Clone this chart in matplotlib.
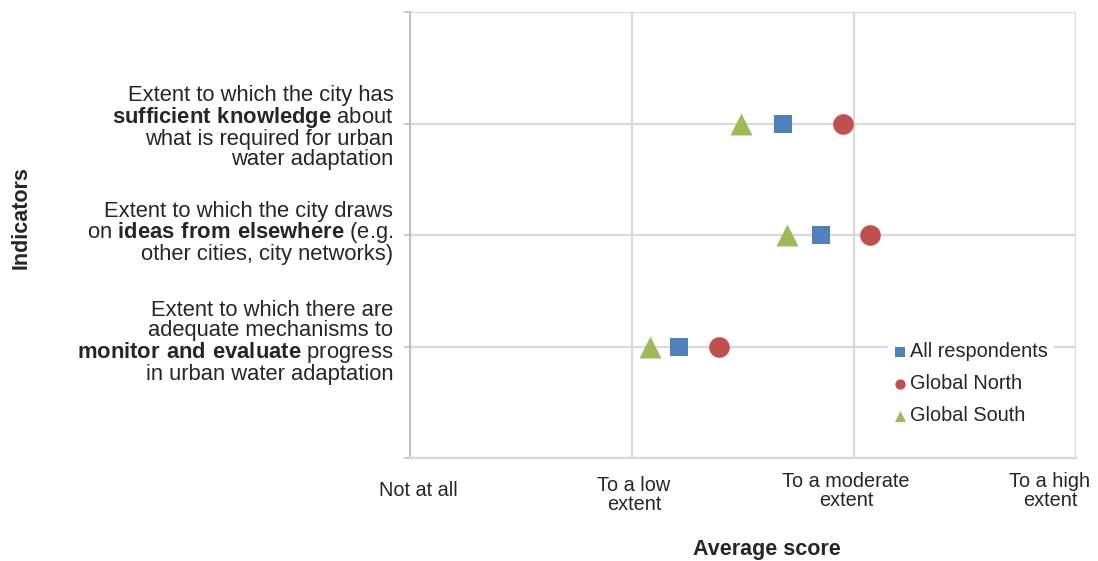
import matplotlib
matplotlib.use("Agg")
import matplotlib.pyplot as plt
from matplotlib.transforms import ScaledTranslation
import numpy as np

plt.rcParams['font.family'] = ['Liberation Sans', 'DejaVu Sans']
plt.rcParams['mathtext.fontset'] = 'custom'
plt.rcParams['mathtext.rm'] = 'Liberation Sans'
plt.rcParams['mathtext.bf'] = 'Liberation Sans:bold'

# ---- data ----
indicators = [
    "Extent to which the city has\n$\\mathbf{sufficient\\ knowledge}$ about\nwhat is required for urban\nwater adaptation",
    "Extent to which the city draws\non $\\mathbf{ideas\\ from\\ elsewhere}$ (e.g.\nother cities, city networks)",
    "Extent to which there are\nadequate mechanisms to\n$\\mathbf{monitor\\ and\\ evaluate}$ progress\nin urban water adaptation",
]
all_respondents = [1.68, 1.85, 1.21]
global_north = [1.95, 2.07, 1.39]
global_south = [1.49, 1.70, 1.08]
series_names = ["All respondents", "Global North", "Global South"]
x_tick_labels = ["Not at all", "To a low\nextent", "To a moderate\nextent", "To a high\nextent"]
x_ticks = [0, 1, 2, 3]

# ---- figure ----
fig = plt.figure(figsize=(10.98, 5.61), dpi=100)
ax = fig.add_axes([410/1098, 1-458/561, (1076-410)/1098, (458-12)/561])

ypos = [3, 2, 1]
grid_c = '#D9D9D9'
ax.scatter(all_respondents, ypos, marker='s', s=180, color='#4F81BD', zorder=3, label=series_names[0], linewidths=0)
ax.scatter(global_north, ypos, marker='o', s=220, color='#C0504D', zorder=3, label=series_names[1], linewidths=0)
ax.scatter(global_south, ypos, marker='^', s=250, color='#9BBB59', zorder=3, label=series_names[2], linewidths=0)

ax.set_xlim(0, 3)
ax.set_ylim(0, 4)
ax.set_yticks([0, 1, 2, 3, 4])
ax.set_yticklabels(['', indicators[2], indicators[1], indicators[0], ''], fontsize=15.8,
                   color='#262626', linespacing=0.93)
ax.set_xticks(x_ticks)
ax.set_xticklabels(x_tick_labels, fontsize=14.3, color='#262626', linespacing=1.0)

ax.tick_params(axis='y', length=4, color='#BFBFBF', width=1.2, pad=8)
ax.tick_params(axis='x', length=0, pad=13)

ax.grid(True, color=grid_c, linewidth=1.6, zorder=0)
ax.set_axisbelow(True)
for side in ['top', 'right']:
    ax.spines[side].set_visible(False)
ax.spines['left'].set_color('#BFBFBF')
ax.spines['left'].set_linewidth(1.4)
ax.spines['bottom'].set_color(grid_c)
ax.spines['bottom'].set_linewidth(1.6)

# nudge tick labels like the original layout
offs = [(8, -5), (2, 0), (-8, 4), (-26, 4)]
for lab, (dx, dy) in zip(ax.get_xticklabels(), offs):
    lab.set_transform(lab.get_transform() + ScaledTranslation(dx/100, dy/100, fig.dpi_scale_trans))
yoffs = [0, 6, 4, -2, 0]
for lab, dy in zip(ax.get_yticklabels(), yoffs):
    lab.set_transform(lab.get_transform() + ScaledTranslation(0, dy/100, fig.dpi_scale_trans))

fig.text(767/1098, 1-549/561, "Average score", ha='center', va='center', fontsize=15.5, fontweight='bold', color='#262626')
fig.text(21/1098, 1-218/561, "Indicators", ha='center', va='center', rotation=90, fontsize=15.5, fontweight='bold', color='#262626')

leg = ax.legend(loc='upper left', bbox_to_anchor=((888-410)/666, (458-336)/446), frameon=True, fancybox=False,
                fontsize=14.3, markerscale=0.5, handlelength=0.6, handletextpad=0.2,
                labelspacing=0.66, borderpad=0.3, borderaxespad=0.0)
leg.get_frame().set_edgecolor('none')
leg.get_frame().set_facecolor('white')
leg.get_frame().set_alpha(1.0)
for t in leg.get_texts():
    t.set_color('#262626')

fig.savefig('out.png', dpi=100)
